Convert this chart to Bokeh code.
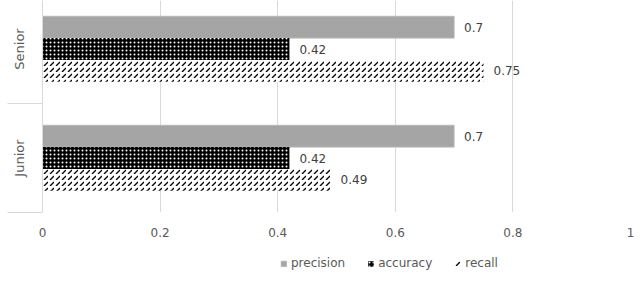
from bokeh.plotting import figure
from bokeh.layouts import column
from bokeh.models import (Range1d, FixedTicker, ColumnDataSource, Legend, LegendItem)
from bokeh.core.properties import value
from bokeh.embed import file_html
from bokeh.resources import INLINE

# ---- data ----
categories = ["Junior", "Senior"]
series = ["precision", "accuracy", "recall"]
precision = [0.7, 0.7]
accuracy = [0.42, 0.42]
recall = [0.49, 0.75]
x_ticks = [0, 0.2, 0.4, 0.6, 0.8, 1]
x_tick_labels = ["0", "0.2", "0.4", "0.6", "0.8", "1"]

FONT = "DejaVu Sans"
BAR_H = 0.2
offsets = {"precision": BAR_H, "accuracy": 0.0, "recall": -BAR_H}

p = figure(width=640, height=250, output_backend="svg", toolbar_location=None,
           x_range=Range1d(0, 1), y_range=Range1d(0, 212 / 109.0),
           min_border_left=42, min_border_right=10, min_border_top=0, min_border_bottom=38)
p.outline_line_color = None
p.background_fill_color = "white"
p.border_fill_color = "white"

# x axis
p.xaxis.ticker = FixedTicker(ticks=x_ticks)
p.xaxis.major_label_overrides = {t: l for t, l in zip(x_ticks, x_tick_labels)}
p.xaxis.axis_line_color = None
p.xaxis.major_tick_line_color = None
p.xaxis.minor_tick_line_color = None
p.xaxis.major_label_standoff = 9
p.xaxis.major_label_text_font = FONT
p.xaxis.major_label_text_font_size = "12px"
p.xaxis.major_label_text_color = "#595959"

p.xgrid.ticker = FixedTicker(ticks=x_ticks)
p.xgrid.grid_line_color = "#d9d9d9"
p.ygrid.grid_line_color = None

# y axis (categories)
centers = [i + 0.5 for i in range(len(categories))]
bounds = [float(i) for i in range(len(categories) + 1)]
p.yaxis.ticker = FixedTicker(ticks=centers, minor_ticks=bounds)
p.yaxis.major_label_overrides = {c: n for c, n in zip(centers, categories)}
p.yaxis.major_label_orientation = "vertical"
p.yaxis.axis_line_color = "#d9d9d9"
p.yaxis.major_tick_line_color = None
p.yaxis.minor_tick_line_color = "#d9d9d9"
p.yaxis.minor_tick_out = 0
p.yaxis.minor_tick_in = -35
p.yaxis.major_tick_out = 0
p.yaxis.major_tick_in = 0
p.yaxis.major_label_standoff = 16
p.yaxis.major_label_text_font = FONT
p.yaxis.major_label_text_font_size = "13px"
p.yaxis.major_label_text_color = "#595959"

styles = {
    "precision": dict(fill_color="#a5a5a5", line_color="#b9b9b9", line_width=1),
    "accuracy": dict(fill_color="black", line_color=None, hatch_pattern="dot",
                     hatch_color="white", hatch_scale=4, hatch_weight=1.6),
    "recall": dict(fill_color="white", line_color=None, hatch_pattern="right_diagonal_dash",
                   hatch_color="black", hatch_scale=6, hatch_weight=1.4),
}
data = {"precision": precision, "accuracy": accuracy, "recall": recall}

for s in series:
    ys = [c + offsets[s] for c in centers]
    src = ColumnDataSource(dict(y=ys, right=data[s], lbl=[f"{v:g}" for v in data[s]]))
    p.hbar(y="y", left=0, right="right", height=BAR_H, source=src, **styles[s])
    p.text(x="right", y="y", text="lbl", source=src, x_offset=10,
           text_baseline="middle", text_align="left",
           text_font=value(FONT), text_font_size="12px", text_color="#404040")

# legend strip (proxy glyphs with the same styles, placed outside its visible range)
lg = figure(width=640, height=32, output_backend="svg", toolbar_location=None,
            x_axis_type=None, y_axis_type=None,
            x_range=Range1d(0, 1), y_range=Range1d(0, 1),
            min_border=0)
lg.outline_line_color = None
lg.border_fill_color = "white"
items = []
for s in series:
    r = lg.hbar(y=[-5], right=[data[s][0]], left=0, height=BAR_H, **styles[s])
    items.append(LegendItem(label=s, renderers=[r]))

legend = Legend(items=items, orientation="horizontal", location=(238, 12),
                border_line_color=None, background_fill_alpha=0,
                glyph_width=7, glyph_height=7, label_standoff=4, spacing=22,
                padding=3, margin=0,
                label_text_font=FONT, label_text_font_size="12px",
                label_text_color="#595959")
lg.add_layout(legend, "center")

layout = column(p, lg, spacing=0)
open("out.html", "w").write(file_html(layout, INLINE))
